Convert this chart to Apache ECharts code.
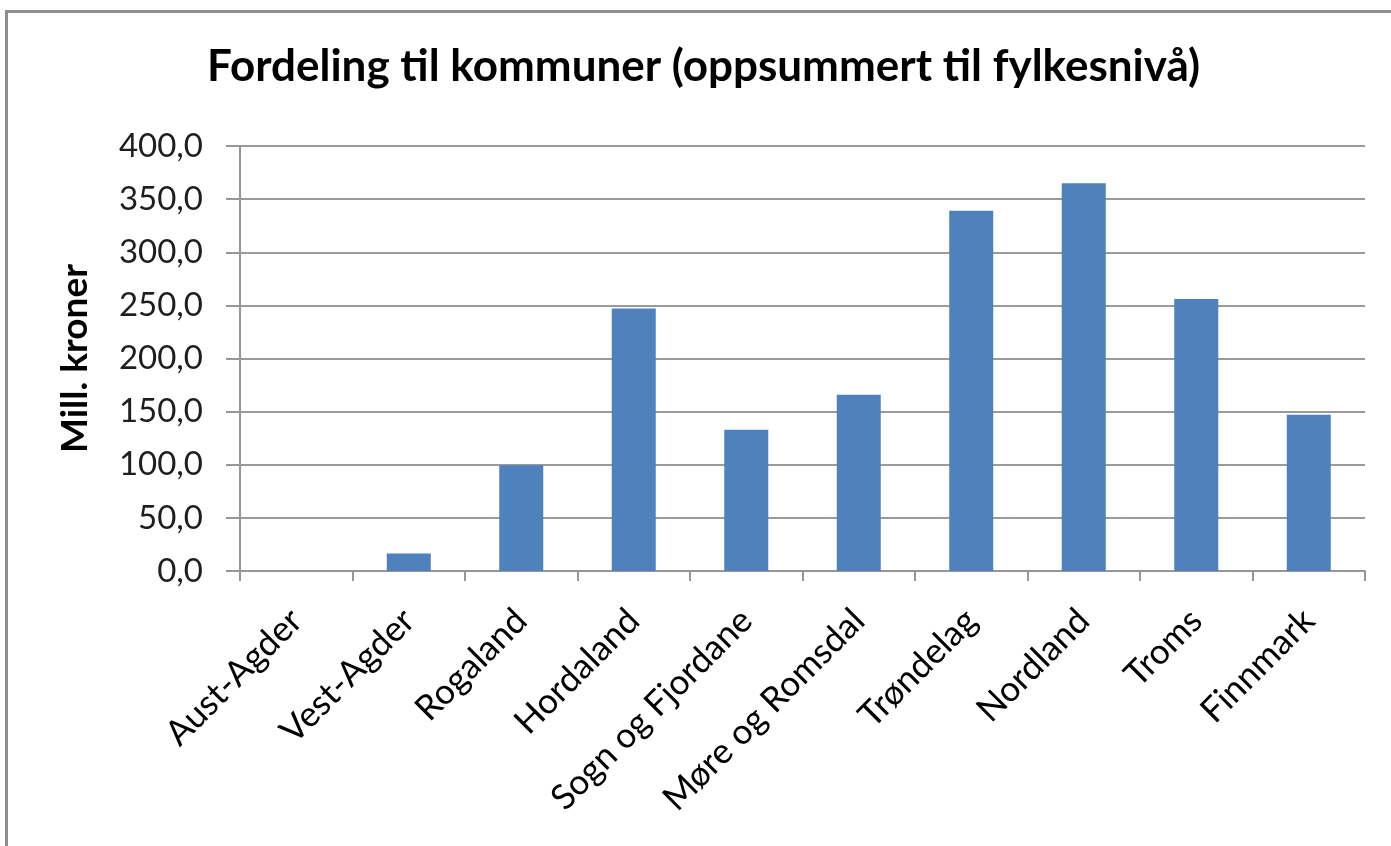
<!DOCTYPE html>
<html>
<head>
<meta charset="utf-8">
<script src="https://cdn.jsdelivr.net/npm/echarts@6/dist/echarts.min.js"></script>
<style>
html, body { margin: 0; padding: 0; background: #fff; overflow: hidden; }
#main { width: 1391px; height: 846px; }
#ramme { position: absolute; left: 5px; top: 10px; width: 1420px; height: 900px;
         border: 3px solid #8e8e8e; pointer-events: none; }
</style>
</head>
<body>
<div id="main"></div>
<div id="ramme"></div>
<script>
// fylker og beløp (mill. kroner)
var fylker = ['Aust-Agder', 'Vest-Agder', 'Rogaland', 'Hordaland', 'Sogn og Fjordane',
              'Møre og Romsdal', 'Trøndelag', 'Nordland', 'Troms', 'Finnmark'];
var belop = [0, 16.5, 99.5, 247, 133, 166, 339, 365, 256, 147];

var dom = document.getElementById('main');
var myChart = echarts.init(dom);

option = {
    animation: false,
    title: {
        text: 'Fordeling til kommuner (oppsummert til fylkesnivå)',
        left: 207,
        top: 45,
        padding: 0,
        textStyle: {
            fontFamily: 'Lato',
            fontWeight: 'bold',
            fontSize: 44,
            color: '#000'
        }
    },
    grid: {
        left: 240,
        right: 26,
        top: 146,
        bottom: 275
    },
    xAxis: {
        type: 'category',
        data: fylker,
        axisLine: { lineStyle: { color: '#969696', width: 2 } },
        axisTick: { show: true, length: 10, lineStyle: { color: '#969696', width: 2 } },
        axisLabel: {
            rotate: 45,
            margin: 44,
            interval: 0,
            fontFamily: 'Lato',
            fontSize: 35,
            color: '#000'
        }
    },
    yAxis: {
        type: 'value',
        min: 0,
        max: 400,
        interval: 50,
        name: 'Mill. kroner',
        nameLocation: 'middle',
        nameGap: 146,
        nameTextStyle: {
            fontFamily: 'Lato',
            fontWeight: 'bold',
            fontSize: 37,
            color: '#000'
        },
        axisLine: { show: true, lineStyle: { color: '#969696', width: 2 } },
        axisTick: { show: true, length: 14, lineStyle: { color: '#969696', width: 2 } },
        splitLine: { lineStyle: { color: '#9a9a9a', width: 2 } },
        axisLabel: {
            margin: 37,
            fontFamily: 'Lato',
            fontSize: 33,
            color: '#1e1e1e',
            formatter: function (v) { return v.toFixed(1).replace('.', ','); }
        }
    },
    series: [{
        type: 'bar',
        data: belop,
        barWidth: 44,
        itemStyle: {
            color: '#4f81bd'
        }
    }]
};
myChart.setOption(option);
</script>
</body>
</html>
